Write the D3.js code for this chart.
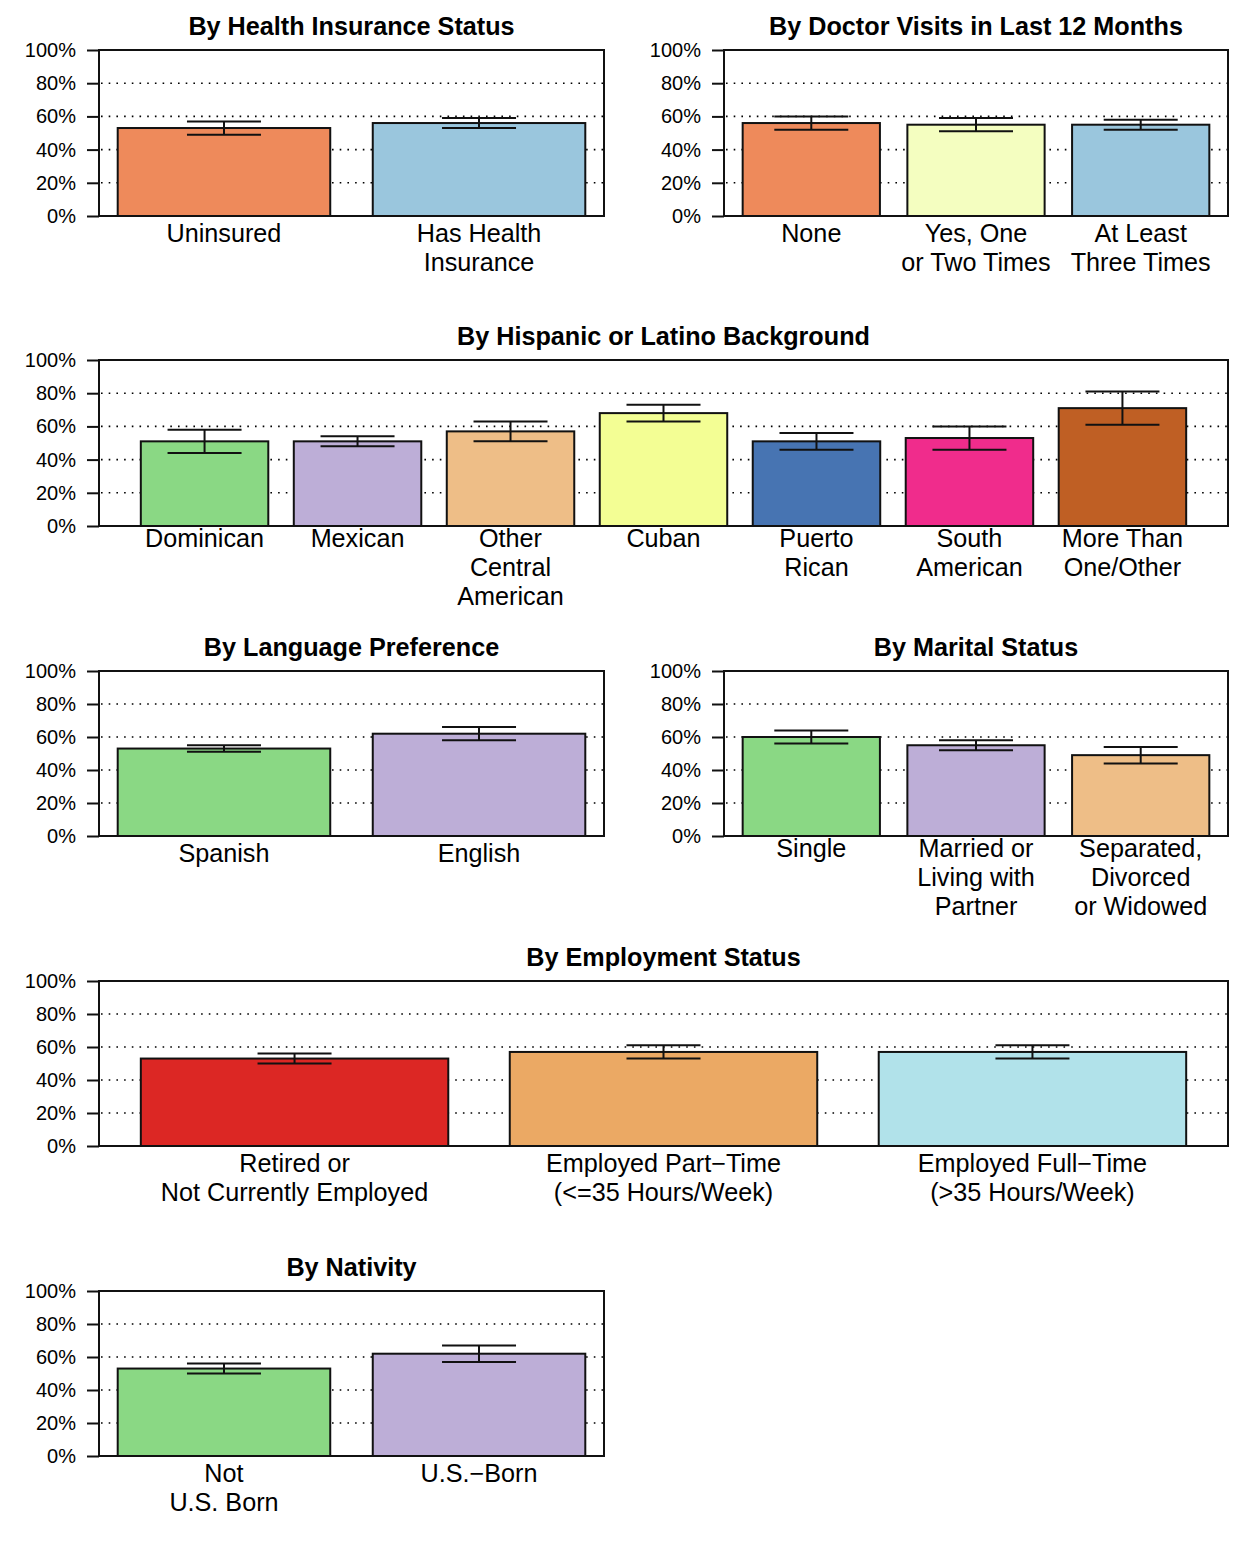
<!DOCTYPE html>
<html>
<head>
<meta charset="utf-8">
<script src="https://cdn.jsdelivr.net/npm/d3@7"></script>
<style>
  html, body { margin: 0; padding: 0; background: #ffffff; }
  svg { display: block; }
  text { font-family: "Liberation Sans", Arial, Helvetica, sans-serif; fill: #000; }
</style>
</head>
<body>
<svg id="chart" width="1244" height="1544"></svg>
<script>
// ---------------- DATA ----------------
const insuranceTitle = "By Health Insurance Status";
const insuranceCategories = ["Uninsured", "Has Health\nInsurance"];
const insuranceValues = [53, 56];
const insuranceLower = [49, 53];
const insuranceUpper = [57, 59];

const visitsTitle = "By Doctor Visits in Last 12 Months";
const visitsCategories = ["None", "Yes, One\nor Two Times", "At Least\nThree Times"];
const visitsValues = [56, 55, 55];
const visitsLower = [52, 51, 52];
const visitsUpper = [60, 59, 58];

const backgroundTitle = "By Hispanic or Latino Background";
const backgroundCategories = ["Dominican", "Mexican", "Other\nCentral\nAmerican", "Cuban", "Puerto\nRican", "South\nAmerican", "More Than\nOne/Other"];
const backgroundValues = [51, 51, 57, 68, 51, 53, 71];
const backgroundLower = [44, 48, 51, 63, 46, 46, 61];
const backgroundUpper = [58, 54, 63, 73, 56, 60, 81];

const languageTitle = "By Language Preference";
const languageCategories = ["Spanish", "English"];
const languageValues = [53, 62];
const languageLower = [51, 58];
const languageUpper = [55, 66];

const maritalTitle = "By Marital Status";
const maritalCategories = ["Single", "Married or\nLiving with\nPartner", "Separated,\nDivorced\nor Widowed"];
const maritalValues = [60, 55, 49];
const maritalLower = [56, 52, 44];
const maritalUpper = [64, 58, 54];

const employmentTitle = "By Employment Status";
const employmentCategories = ["Retired or\nNot Currently Employed", "Employed Part\u2212Time\n(<=35 Hours/Week)", "Employed Full\u2212Time\n(>35 Hours/Week)"];
const employmentValues = [53, 57, 57];
const employmentLower = [50, 53, 53];
const employmentUpper = [56, 61, 61];

const nativityTitle = "By Nativity";
const nativityCategories = ["Not\nU.S. Born", "U.S.\u2212Born"];
const nativityValues = [53, 62];
const nativityLower = [50, 57];
const nativityUpper = [56, 67];

const yTickValues = [0, 20, 40, 60, 80, 100];
const yTickLabels = ["0%", "20%", "40%", "60%", "80%", "100%"];
const gridValues = [20, 40, 60, 80];

// ---------------- STYLES ----------------
const insuranceColors = ["#EE8A5B", "#9AC6DD"];
const visitsColors = ["#EE8A5B", "#F4FEC0", "#9AC6DD"];
const backgroundColors = ["#8AD884", "#BDAED7", "#EEBE87", "#F3FE94", "#4774B2", "#F02C8C", "#BF5F24"];
const languageColors = ["#8AD884", "#BDAED7"];
const maritalColors = ["#8AD884", "#BDAED7", "#EEBE87"];
const employmentColors = ["#DC2724", "#EBA964", "#B1E2EA"];
const nativityColors = ["#8AD884", "#BDAED7"];

// ---------------- LAYOUT ----------------
const panels = [
  { title: insuranceTitle, cats: insuranceCategories, vals: insuranceValues, lo: insuranceLower, hi: insuranceUpper, colors: insuranceColors, L: 99, R: 604, T: 50, B: 216 },
  { title: visitsTitle, cats: visitsCategories, vals: visitsValues, lo: visitsLower, hi: visitsUpper, colors: visitsColors, L: 724, R: 1228, T: 50, B: 216 },
  { title: backgroundTitle, cats: backgroundCategories, vals: backgroundValues, lo: backgroundLower, hi: backgroundUpper, colors: backgroundColors, L: 99, R: 1228, T: 360, B: 526 },
  { title: languageTitle, cats: languageCategories, vals: languageValues, lo: languageLower, hi: languageUpper, colors: languageColors, L: 99, R: 604, T: 671, B: 836 },
  { title: maritalTitle, cats: maritalCategories, vals: maritalValues, lo: maritalLower, hi: maritalUpper, colors: maritalColors, L: 724, R: 1228, T: 671, B: 836 },
  { title: employmentTitle, cats: employmentCategories, vals: employmentValues, lo: employmentLower, hi: employmentUpper, colors: employmentColors, L: 99, R: 1228, T: 981, B: 1146 },
  { title: nativityTitle, cats: nativityCategories, vals: nativityValues, lo: nativityLower, hi: nativityUpper, colors: nativityColors, L: 99, R: 604, T: 1291, B: 1456 }
];

const svg = d3.select("#chart");
svg.append("rect").attr("width", 1244).attr("height", 1544).attr("fill", "#fff");

const SPACE = 0.2, BARW = 1, CAP = 37;

panels.forEach(p => {
  const n = p.cats.length;
  const lo = SPACE, hi = n * (BARW + SPACE);
  const ext = 0.04 * (hi - lo);
  const x = d3.scaleLinear().domain([lo - ext, hi + ext]).range([p.L, p.R]);
  const y = d3.scaleLinear().domain([0, 100]).range([p.B, p.T]);
  const g = svg.append("g");

  g.selectAll("line.grid").data(gridValues).enter().append("line")
    .attr("x1", p.L + 2).attr("x2", p.R)
    .attr("y1", d => y(d)).attr("y2", d => y(d))
    .attr("stroke", "#000").attr("stroke-width", 1.6)
    .attr("stroke-dasharray", "1.6,6.1")
    .attr("stroke-linecap", "butt");

  const bars = p.vals.map((v, i) => ({ v, i, x0: SPACE + i * (BARW + SPACE) }));
  g.selectAll("rect.bar").data(bars).enter().append("rect")
    .attr("x", d => x(d.x0)).attr("width", d => x(d.x0 + BARW) - x(d.x0))
    .attr("y", d => y(d.v)).attr("height", d => y(0) - y(d.v))
    .attr("fill", d => p.colors[d.i])
    .attr("stroke", "#111").attr("stroke-width", 2);

  const eb = g.selectAll("g.eb").data(bars).enter().append("g").attr("stroke", "#111").attr("stroke-width", 2);
  eb.append("line").attr("x1", d => x(d.x0 + BARW / 2)).attr("x2", d => x(d.x0 + BARW / 2))
    .attr("y1", d => y(p.lo[d.i])).attr("y2", d => y(p.hi[d.i]));
  eb.append("line").attr("x1", d => x(d.x0 + BARW / 2) - CAP).attr("x2", d => x(d.x0 + BARW / 2) + CAP)
    .attr("y1", d => y(p.lo[d.i])).attr("y2", d => y(p.lo[d.i]));
  eb.append("line").attr("x1", d => x(d.x0 + BARW / 2) - CAP).attr("x2", d => x(d.x0 + BARW / 2) + CAP)
    .attr("y1", d => y(p.hi[d.i])).attr("y2", d => y(p.hi[d.i]));

  g.append("rect").attr("x", p.L).attr("y", p.T).attr("width", p.R - p.L).attr("height", p.B - p.T)
    .attr("fill", "none").attr("stroke", "#111").attr("stroke-width", 2);

  const yAxis = d3.axisLeft(y).tickValues(yTickValues)
    .tickFormat((d, i) => yTickLabels[i]).tickSize(12).tickPadding(11);
  const ax = g.append("g").attr("transform", `translate(${p.L},0)`).call(yAxis);
  ax.select(".domain").remove();
  ax.selectAll(".tick line").attr("stroke", "#111").attr("stroke-width", 2);
  ax.selectAll(".tick text").attr("font-size", 20).attr("font-family", "Liberation Sans, Arial, sans-serif").attr("fill", "#000");

  const maxLines = d3.max(p.cats, c => c.split("\n").length);
  const firstBase = p.B + (maxLines >= 3 ? 21 : 26);
  bars.forEach(d => {
    const lines = p.cats[d.i].split("\n");
    const t = g.append("text").attr("text-anchor", "middle").attr("font-size", 25.2)
      .attr("x", x(d.x0 + BARW / 2)).attr("y", firstBase);
    lines.forEach((ln, k) => {
      t.append("tspan").attr("x", x(d.x0 + BARW / 2)).attr("y", firstBase + k * 29).text(ln);
    });
  });

  g.append("text").attr("x", (p.L + p.R) / 2).attr("y", p.T - 15.5)
    .attr("text-anchor", "middle").attr("font-size", 25.2).attr("font-weight", "bold")
    .text(p.title);
});
</script>
</body>
</html>
